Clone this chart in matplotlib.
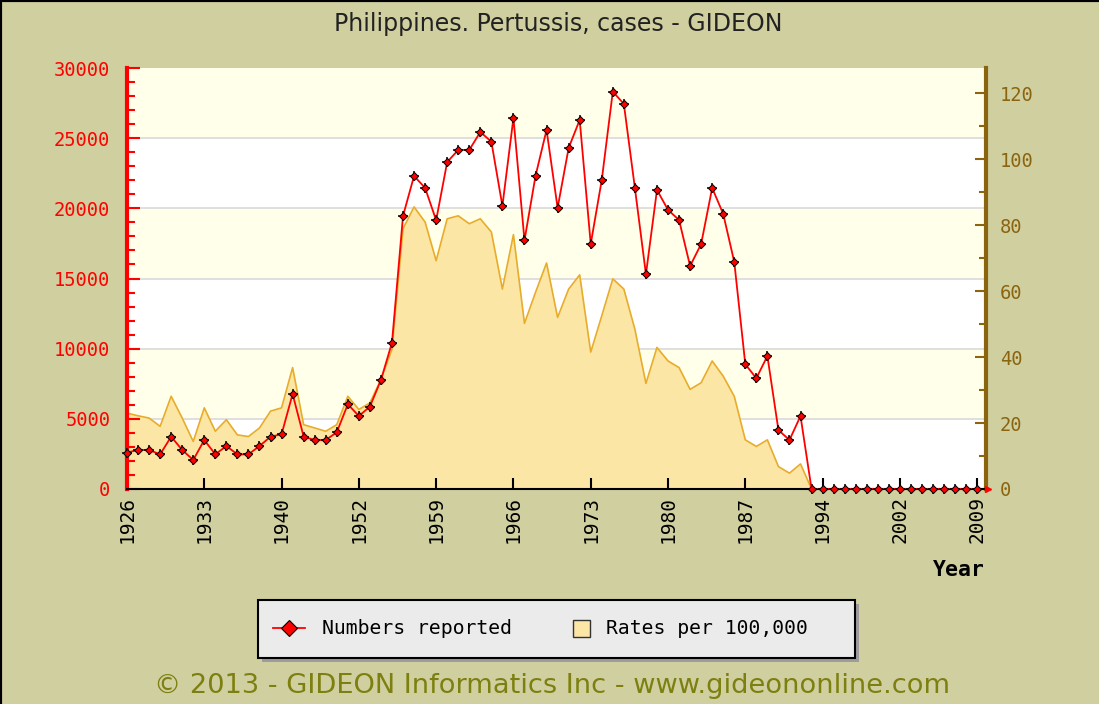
import matplotlib
matplotlib.use("Agg")
import matplotlib.pyplot as plt
from matplotlib.lines import Line2D
from matplotlib.patches import Rectangle
from matplotlib.ticker import MultipleLocator, FixedLocator
from matplotlib.transforms import blended_transform_factory
import numpy as np

# Reporting years (war years and one late year are absent from the series)
years = (list(range(1926, 1942)) + list(range(1947, 1995))
         + list(range(1995, 2001)) + list(range(2002, 2010)))

cases = [2600, 2780, 2780, 2470, 3730, 2780, 2070, 3490, 2470, 3060,
         2470, 2470, 3060, 3730, 3900, 6770,
         3730, 3490, 3490, 4040, 6040,
         5200, 5870, 7770, 10430, 19460, 22310, 21450, 19150, 23300, 24160,
         24160, 25440, 24750, 20170, 26440, 17720, 22310, 25590, 20030, 24300,
         26300, 17460, 22020, 28320, 27440, 21450, 15300, 21310, 19890, 19170,
         15890, 17460, 21450, 19600, 16180, 8890, 7890, 9480, 4200, 3490,
         5200, 0,
         0, 0, 0, 0, 0, 0, 0, 0, 0, 0, 0, 0, 0, 0, 0]

rates = [23.0, 22.2, 21.5, 19.0, 28.1, 21.5, 14.4, 24.6, 17.5, 21.0,
         16.4, 15.9, 18.5, 23.6, 24.6, 36.8,
         19.5, 18.5, 17.5, 19.5, 28.1,
         24.1, 26.1, 33.2, 42.3, 78.9, 85.5, 80.9, 69.2, 81.9, 82.8,
         80.4, 81.9, 77.9, 60.6, 77.1, 50.2, 59.6, 68.5, 52.0, 60.6,
         64.9, 41.5, 52.5, 63.7, 60.6, 48.4, 32.0, 42.9, 38.8, 36.8,
         30.2, 32.2, 38.8, 34.2, 28.1, 14.9, 12.9, 14.9, 6.8, 4.8,
         7.6, 0,
         0, 0, 0, 0, 0, 0, 0, 0, 0, 0, 0, 0, 0, 0, 0]

labels = ['Numbers reported', 'Rates per 100,000']
tick_every = 7

BG = '#d0cfa0'
RED = '#ff0000'
BROWN = '#8b6410'
FILL = '#fbe6a6'
FILL_EDGE = '#e8ac2a'
BAND = '#ffffea'
MONO = 'DejaVu Sans Mono'

W, H = 1099, 704
x = np.arange(len(years))

def fx(px):
    return px / W

def fy(py):
    return 1 - py / H

fig = plt.figure(figsize=(W / 100, H / 100), dpi=100, facecolor=BG)
ax = fig.add_axes([fx(127), fy(489), (986 - 127) / W, (489 - 68) / H])
ax2 = ax.twinx()
ax.set_zorder(2)
ax2.set_zorder(1)
ax.patch.set_visible(False)
ax2.patch.set_visible(False)

ax.set_xlim(0, 77.8)
ax.set_ylim(0, 30000)
ax2.set_ylim(0, 127.6)

# alternating background bands and grid lines (in case units)
tr = blended_transform_factory(ax2.transAxes, ax.transData)
for k, lo in enumerate(range(0, 30000, 5000)):
    col = 'white' if k % 2 == 0 else BAND
    ax2.add_patch(Rectangle((0, lo), 1, 5000, transform=tr, facecolor=col,
                            edgecolor='none', zorder=0))
    if lo > 0:
        ax2.plot([0, 1], [lo, lo], transform=tr, color='#dcdcdc', lw=1.3, zorder=0.5)

# rates area on the right axis
ax2.fill_between(x, rates, 0, color=FILL, zorder=1, lw=0)
ax2.plot(x, rates, color=FILL_EDGE, lw=1.2, zorder=1.5)

# reported numbers on the left axis
ax.plot(x, cases, color=RED, lw=1.3, zorder=3)
ax.plot(x, cases, ls='none', marker='+', ms=7.5, mew=1.1, color='black',
        zorder=4, clip_on=False)
ax.plot(x, cases, ls='none', marker='D', ms=4.2, mfc=RED, mec='black',
        mew=0.7, zorder=5, clip_on=False)

# spines
ax.spines['top'].set_visible(False)
ax2.spines['top'].set_visible(False)
ax2.spines['left'].set_visible(False)
ax2.spines['bottom'].set_visible(False)
ax.spines['right'].set_visible(False)
ax.spines['left'].set_color(RED)
ax.spines['left'].set_linewidth(3)
ax.spines['bottom'].set_color('black')
ax.spines['bottom'].set_linewidth(1.5)
ax2.spines['right'].set_color(BROWN)
ax2.spines['right'].set_linewidth(3)

# left axis ticks
ax.yaxis.set_major_locator(MultipleLocator(5000))
ax.yaxis.set_minor_locator(MultipleLocator(1000))
ax.tick_params(axis='y', which='both', direction='in', color=RED, width=1.5,
               labelcolor=RED, labelsize=13.5, pad=12)
ax.tick_params(axis='y', which='major', length=9)
ax.tick_params(axis='y', which='minor', length=6)
for lab in ax.get_yticklabels():
    lab.set_fontfamily(MONO)

# right axis ticks
ax2.yaxis.set_major_locator(MultipleLocator(20))
ax2.yaxis.set_minor_locator(MultipleLocator(10))
ax2.tick_params(axis='y', which='both', direction='in', color=BROWN, width=1.5,
                labelcolor=BROWN, labelsize=13.5, pad=10)
ax2.tick_params(axis='y', which='major', length=8)
ax2.tick_params(axis='y', which='minor', length=5)
for lab in ax2.get_yticklabels():
    lab.set_fontfamily(MONO)

# category ticks on the year axis
pos = x[::tick_every]
ax.xaxis.set_major_locator(FixedLocator(pos))
ax.set_xticklabels([str(years[i]) for i in pos], rotation=90,
                   fontfamily=MONO, fontsize=14)
ax.tick_params(axis='x', direction='in', length=8, width=1.5, color='black', pad=5)

# small arrow at the end of the year axis
ax.plot([77.95], [0], marker='>', ms=4.5, color=RED, clip_on=False, zorder=6)

fig.text(fx(985), fy(570), 'Year', ha='right', va='center',
         fontfamily=MONO, fontweight='bold', fontsize=15.5)

fig.text(fx(558), fy(24), 'Philippines. Pertussis, cases - GIDEON',
         ha='center', va='center', fontsize=17, color='#222222')

fig.text(fx(552), fy(686),
         '\u00a9 2013 - GIDEON Informatics Inc - www.gideononline.com',
         ha='center', va='center', fontsize=19.6, color='#7d8010')

# legend box with drop shadow
fig.add_artist(Rectangle((fx(262), fy(662)), (855 - 258) / W, (658 - 600) / H,
                         transform=fig.transFigure, facecolor='#9c9c9c',
                         edgecolor='none'))
fig.add_artist(Rectangle((fx(258), fy(658)), (855 - 258) / W, (658 - 600) / H,
                         transform=fig.transFigure, facecolor='#ebebeb',
                         edgecolor='black', lw=1.5))
ly = fy(628)
fig.add_artist(Line2D([fx(273), fx(305)], [ly, ly], transform=fig.transFigure,
                      color=RED, lw=1.3))
fig.add_artist(Line2D([fx(289)], [ly], transform=fig.transFigure, marker='D',
                      ms=8, mfc=RED, mec='black', mew=0.8))
fig.add_artist(Rectangle((fx(573), fy(637)), 17 / W, 17 / H,
                         transform=fig.transFigure, facecolor=FILL,
                         edgecolor='#333333', lw=1))
fig.text(fx(322), ly, labels[0], ha='left', va='center',
         fontfamily=MONO, fontsize=14.2)
fig.text(fx(606), ly, labels[1], ha='left', va='center',
         fontfamily=MONO, fontsize=14.2)

# figure frame on the top and left edges
fig.add_artist(Line2D([0, 0], [0, 1], transform=fig.transFigure, color='black', lw=3))
fig.add_artist(Line2D([0, 1], [1, 1], transform=fig.transFigure, color='black', lw=3))

fig.savefig('out.png', dpi=100, facecolor=BG)
